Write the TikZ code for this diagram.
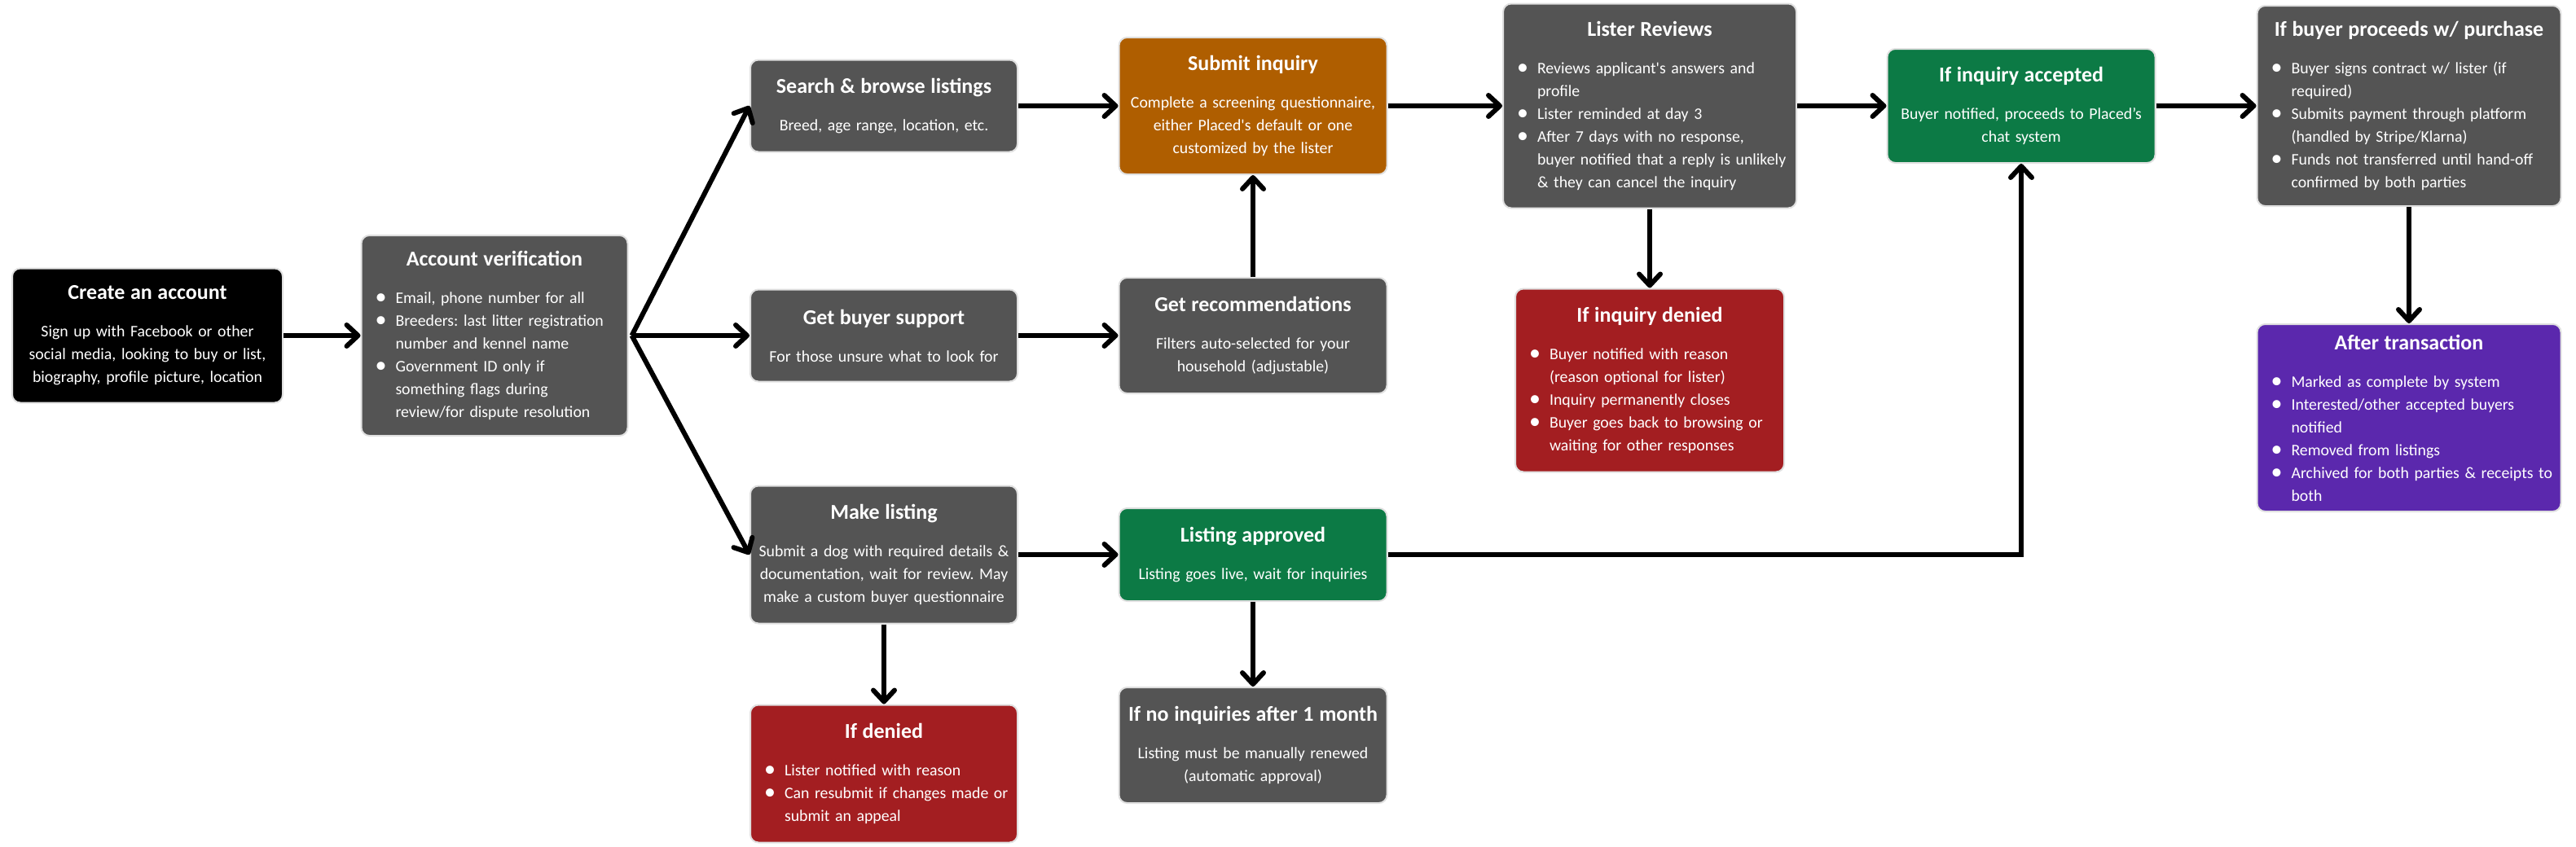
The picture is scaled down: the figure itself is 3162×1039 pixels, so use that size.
\documentclass[tikz,border=0pt]{standalone}
\usepackage{fontspec}
\setmainfont{Carlito}
\usetikzlibrary{arrows.meta}

\definecolor{boxgray}{RGB}{84,84,84}
\definecolor{boxorange}{RGB}{175,94,0}
\definecolor{boxred}{RGB}{163,30,33}
\definecolor{boxgreen}{RGB}{12,122,69}
\definecolor{boxpurple}{RGB}{91,40,173}

\frenchspacing
\newcommand{\cardtitle}[1]{{\bfseries\fontsize{13}{16}\selectfont #1\par}\vspace{9pt}}
\newcommand{\bdot}{\raisebox{-0.6pt}{\fontsize{14}{14}\selectfont\textbullet}}
\newcommand{\bitem}[1]{\par\noindent\hangindent=21pt\hangafter=1\makebox[21pt][l]{\hspace{8.5pt}\bdot}#1}
\newenvironment{blist}{\par\raggedright\let\\\newline}{\par}

\begin{document}
\begin{tikzpicture}[x=0.5pt,y=-0.5pt,
  card/.style={rounded corners=5pt,draw=black!12,line width=1pt,text=white,
    inner xsep=0pt,inner ysep=3pt,align=center,font=\fontsize{9.9}{14}\selectfont},
  blackbox/.style={card,fill=black},
  graybox/.style={card,fill=boxgray},
  orangebox/.style={card,fill=boxorange},
  redbox/.style={card,fill=boxred},
  greenbox/.style={card,fill=boxgreen},
  purplebox/.style={card,fill=boxpurple},
  flow/.style={line width=3pt,-{Straight Barb[length=7pt,width=13pt,round]}}]
\useasboundingbox (0,0) rectangle (3162,1039);

% the boxes
\node[blackbox,text width=166pt,minimum height=82.5pt] (create) at (181,412) {\cardtitle{Create an account}Sign up with Facebook or other\\social media, looking to buy or list,\\biography, profile picture, location};
\node[graybox,text width=163.5pt,minimum height=123pt] (account) at (607,412) {\cardtitle{Account verification}\begin{blist}\bitem{Email, phone number for all}\bitem{Breeders: last litter registration\\number and kennel name}\bitem{Government ID only if\\something flags during\\review/for dispute resolution}\end{blist}};
\node[graybox,text width=164pt,minimum height=56.5pt] (search) at (1085,130) {\cardtitle{Search \& browse listings}Breed, age range, location, etc.};
\node[graybox,text width=164pt,minimum height=56.5pt] (support) at (1085,412) {\cardtitle{Get buyer support}For those unsure what to look for};
\node[graybox,text width=164pt,minimum height=84.5pt] (make) at (1085,681) {\cardtitle{Make listing}Submit a dog with required details \&\\documentation, wait for review. May\\make a custom buyer questionnaire};
\node[redbox,text width=164pt,minimum height=84.5pt] (denied) at (1085,950) {\cardtitle{If denied}\begin{blist}\bitem{Lister notified with reason}\bitem{Can resubmit if changes made or\\submit an appeal}\end{blist}};
\node[orangebox,text width=164.5pt,minimum height=84pt] (submit) at (1538,130) {\cardtitle{Submit inquiry}Complete a screening questionnaire,\\either Placed\textquotesingle s default or one\\customized by the lister};
\node[graybox,text width=164.5pt,minimum height=71pt] (recommend) at (1538,412) {\cardtitle{Get recommendations}Filters auto-selected for your\\household (adjustable)};
\node[greenbox,text width=164.5pt,minimum height=57pt] (approved) at (1538,681) {\cardtitle{Listing approved}Listing goes live, wait for inquiries};
\node[graybox,text width=164.5pt,minimum height=71pt] (renew) at (1538,915) {\cardtitle{If no inquiries after 1 month}Listing must be manually renewed\\(automatic approval)};
\node[graybox,text width=180pt,minimum height=125.5pt] (lister) at (2025,130) {\cardtitle{Lister Reviews}\begin{blist}\bitem{Reviews applicant\textquotesingle s answers and\\profile}\bitem{Lister reminded at day 3}\bitem{After 7 days with no response,\\buyer notified that a reply is unlikely\\\& they can cancel the inquiry}\end{blist}};
\node[redbox,text width=165pt,minimum height=112.5pt] (inqdenied) at (2025,467) {\cardtitle{If inquiry denied}\begin{blist}\bitem{Buyer notified with reason\\(reason optional for lister)}\bitem{Inquiry permanently closes}\bitem{Buyer goes back to browsing or\\waiting for other responses}\end{blist}};
\node[greenbox,text width=164.5pt,minimum height=70pt] (accepted) at (2481,130) {\cardtitle{If inquiry accepted}Buyer notified, proceeds to Placed’s\\chat system};
\node[graybox,text width=186.5pt,minimum height=123pt] (purchase) at (2957,130) {\cardtitle{If buyer proceeds w/ purchase}\begin{blist}\bitem{Buyer signs contract w/ lister (if\\required)}\bitem{Submits payment through platform\\(handled by Stripe/Klarna)}\bitem{Funds not transferred until hand-off\\confirmed by both parties}\end{blist}};
\node[purplebox,text width=186.5pt,minimum height=115pt] (after) at (2957,513) {\cardtitle{After transaction}\begin{blist}\bitem{Marked as complete by system}\bitem{Interested/other accepted buyers\\notified}\bitem{Removed from listings}\bitem{Archived for both parties \& receipts to\\both}\end{blist}};

% the arrows
\coordinate (fork) at ([xshift=2pt]account.east);
\draw[flow] (create) -- (account);
\draw[flow] (fork) -- (search.west);
\draw[flow] (fork) -- (support.west);
\draw[flow] (fork) -- (make.west);
\draw[flow] (search) -- (submit);
\draw[flow] (support) -- (recommend);
\draw[flow] (recommend) -- (submit);
\draw[flow] (submit) -- (lister);
\draw[flow] (lister) -- (accepted);
\draw[flow] (lister) -- (inqdenied);
\draw[flow] (accepted) -- (purchase);
\draw[flow] (purchase) -- (after);
\draw[flow] (make) -- (approved);
\draw[flow] (make) -- (denied);
\draw[flow] (approved) -- (renew);
\draw[flow] (approved.east) -| (accepted.south);
\end{tikzpicture}
\end{document}
